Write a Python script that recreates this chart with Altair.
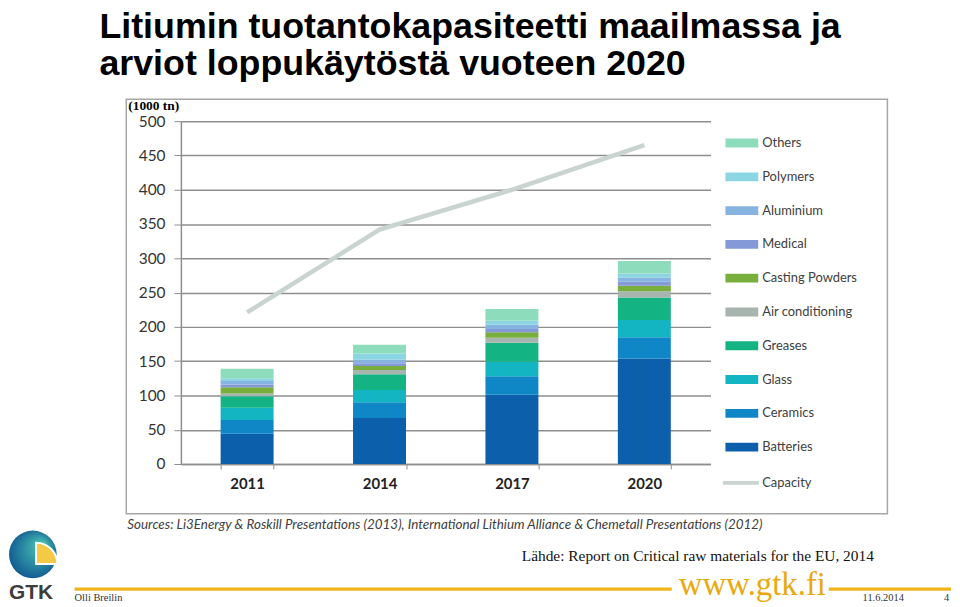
import altair as alt
import pandas as pd

# ---------------- data ----------------
years = ["2011", "2014", "2017", "2020"]
categories = ["Others", "Polymers", "Aluminium", "Medical", "Casting Powders",
              "Air conditioning", "Greases", "Glass", "Ceramics", "Batteries"]
colors = ["#8ddcbb", "#8cd5e3", "#86b3df", "#8499d8", "#78ae3c",
          "#a8b4ae", "#13b383", "#14b5c3", "#0f87c6", "#0c5faa"]

# end use, 1000 tn, per year
batteries = [44, 67, 101, 154]
ceramics = [20, 23, 27, 31]
glass = [18, 18, 21, 25]
greases = [17, 23, 28, 33]
air_conditioning = [4, 6, 7, 9]
casting_powders = [9, 6, 8, 8]
medical = [4, 4, 5, 6]
aluminium = [5, 5, 6, 6]
polymers = [4, 9, 6, 6]
others = [14, 13, 17, 18]
capacity = [221, 342, 400, 465]
y_ticks = [0, 50, 100, 150, 200, 250, 300, 350, 400, 450, 500]

series = {
    "Batteries": batteries, "Ceramics": ceramics, "Glass": glass,
    "Greases": greases, "Air conditioning": air_conditioning,
    "Casting Powders": casting_powders, "Medical": medical,
    "Aluminium": aluminium, "Polymers": polymers, "Others": others,
}
stack_order = ["Batteries", "Ceramics", "Glass", "Greases", "Air conditioning",
               "Casting Powders", "Medical", "Aluminium", "Polymers", "Others"]

rows = []
for rank, cat in enumerate(stack_order):
    for yr, v in zip(years, series[cat]):
        rows.append({"Year": yr, "Category": cat, "Value": v, "rank": rank})
df = pd.DataFrame(rows)
cap_df = pd.DataFrame({"Year": years, "Capacity": capacity, "Series": ["Capacity"] * 4})
one = pd.DataFrame({"a": [0]})

# ---------------- geometry ----------------
W, H = 533, 345            # plot area
OX, OY = 182, 120          # plot origin on the page
def px(x):
    return x - OX
def py(y):
    return y - OY

grid_gray = "#8e8e8e"
LABEL_FONT = "Lato"

x_enc = alt.X(
    "Year:N",
    scale=alt.Scale(domain=years, paddingInner=0.6, paddingOuter=0.3),
    axis=alt.Axis(title=None, labelAngle=0, labelFont=LABEL_FONT, labelFontWeight="bold",
                  labelFontSize=15, labelColor="#222222", labelPadding=8,
                  tickBand="extent", tickSize=5, tickColor=grid_gray,
                  domainColor=grid_gray, domainWidth=1.5, grid=False),
)
y_scale = alt.Scale(domain=[0, 500], nice=False)
y_axis = alt.Axis(title=None, values=y_ticks, labelOverlap=False,
                  labelFont=LABEL_FONT, labelFontSize=15.5, labelColor="#333333",
                  tickSize=7, tickColor=grid_gray, labelPadding=9,
                  domainColor=grid_gray, domainWidth=1.5,
                  grid=True, gridColor=grid_gray, gridWidth=1.5)

bars = alt.Chart(df).mark_bar().encode(
    x=x_enc,
    y=alt.Y("Value:Q", stack="zero", scale=y_scale, axis=y_axis),
    color=alt.Color("Category:N",
                    scale=alt.Scale(domain=categories, range=colors),
                    legend=alt.Legend(title=None, orient="none", legendX=548, legendY=5.5,
                                      symbolType="M-1,-0.27H1V0.27H-1Z", symbolSize=1089,
                                      symbolStrokeWidth=0, symbolOpacity=1,
                                      labelFont=LABEL_FONT, labelFontSize=13,
                                      labelColor="#404040", labelOffset=4,
                                      rowPadding=10, padding=0)),
    order=alt.Order("rank:Q", sort="ascending"),
)

line = alt.Chart(cap_df).mark_line(strokeWidth=4.5).encode(
    x=x_enc,
    y=alt.Y("Capacity:Q", scale=y_scale, axis=y_axis),
    stroke=alt.Stroke("Series:N",
                      scale=alt.Scale(domain=["Capacity"], range=["#c9d3cf"]),
                      legend=alt.Legend(title=None, orient="none", legendX=543, legendY=343.5,
                                        symbolType="stroke", symbolSize=1300,
                                        symbolStrokeWidth=4,
                                        labelFont=LABEL_FONT, labelFontSize=13,
                                        labelColor="#404040", labelOffset=1, padding=0)),
)

# frame around the chart
frame = alt.Chart(one).mark_rect(fill=None, stroke="#a6a6a6", strokeWidth=1.5).encode(
    x=alt.value(px(127)), x2=alt.value(px(893)),
    y=alt.value(py(98)), y2=alt.value(py(515)),
)

def text(s, x, y, size, font="Liberation Sans", weight="normal", color="#000000",
         style="normal", align="left"):
    return alt.Chart(one).mark_text(
        text=s, align=align, baseline="alphabetic", font=font, fontSize=size,
        fontWeight=weight, fontStyle=style, color=color,
    ).encode(x=alt.value(px(x)), y=alt.value(py(y)))

title1 = text("Litiumin tuotantokapasiteetti maailmassa ja", 100, 36, 36, weight="bold")
title2 = text("arviot loppukäytöstä vuoteen 2020", 100, 74, 36, weight="bold")
unit = text("(1000 tn)", 129, 109, 13.5, font="Liberation Serif", weight="bold")
sources = text("Sources: Li3Energy & Roskill Presentations (2013), International Lithium "
               "Alliance & Chemetall Presentations (2012)", 128, 530, 13.5,
               font=LABEL_FONT, style="italic", color="#404040")
lahde = text("Lähde: Report on Critical raw materials for the EU, 2014", 525, 563, 15.5,
             font="Liberation Serif", color="#111111")
www = text("www.gtk.fi", 683, 597, 33, font="Liberation Serif", color="#e9a90f")
author = text("Olli Breilin", 75, 603, 10.5, font="Liberation Serif", color="#333333")
date = text("11.6.2014", 868, 603, 10.5, font="Liberation Serif", color="#333333")
page = text("4", 950, 603, 10.5, font="Liberation Serif", color="#333333")
gtk = text("GTK", 9, 601, 21, weight="bold", color="#3d3d3d")

rule1 = alt.Chart(one).mark_rule(color="#f1b51c", strokeWidth=3.2).encode(
    x=alt.value(px(75)), x2=alt.value(px(676)), y=alt.value(py(591)))
rule2 = alt.Chart(one).mark_rule(color="#f1b51c", strokeWidth=3.2).encode(
    x=alt.value(px(834)), x2=alt.value(px(957)), y=alt.value(py(591)))

sphere = alt.Chart(one).mark_point(
    shape="circle", filled=True, size=2300, opacity=1,
    color=alt.RadialGradient(gradient="radial", x1=0.7, y1=0.3, r1=0.05, x2=0.5, y2=0.5, r2=0.6,
                             stops=[alt.GradientStop(offset=0, color="#49c0b4"),
                                    alt.GradientStop(offset=1, color="#0b4f8e")]),
).encode(x=alt.value(px(33)), y=alt.value(py(556)))
wedge = alt.Chart(one).mark_point(
    shape="M-1,1L-1,-1A2,2 0 0,1 1,1Z", filled=True, size=460, opacity=1,
    color="#f4c945", stroke="white", strokeWidth=2,
).encode(x=alt.value(px(47)), y=alt.value(py(555)))

chart = alt.layer(
    frame, bars, line, title1, title2, unit, sources, lahde,
    rule1, rule2, www, author, date, page, sphere, wedge, gtk,
).resolve_legend(color="independent", stroke="independent").properties(
    width=W, height=H,
    autosize=alt.AutoSizeParams(type="none"),
    padding={"left": OX - 8, "top": OY - 8, "right": 950 - (OX - 8) - W,
             "bottom": 599 - (OY - 8) - H},
    background="white",
).configure_view(stroke=None)

chart.save("out.html", embed_options={"renderer": "svg", "actions": False})
